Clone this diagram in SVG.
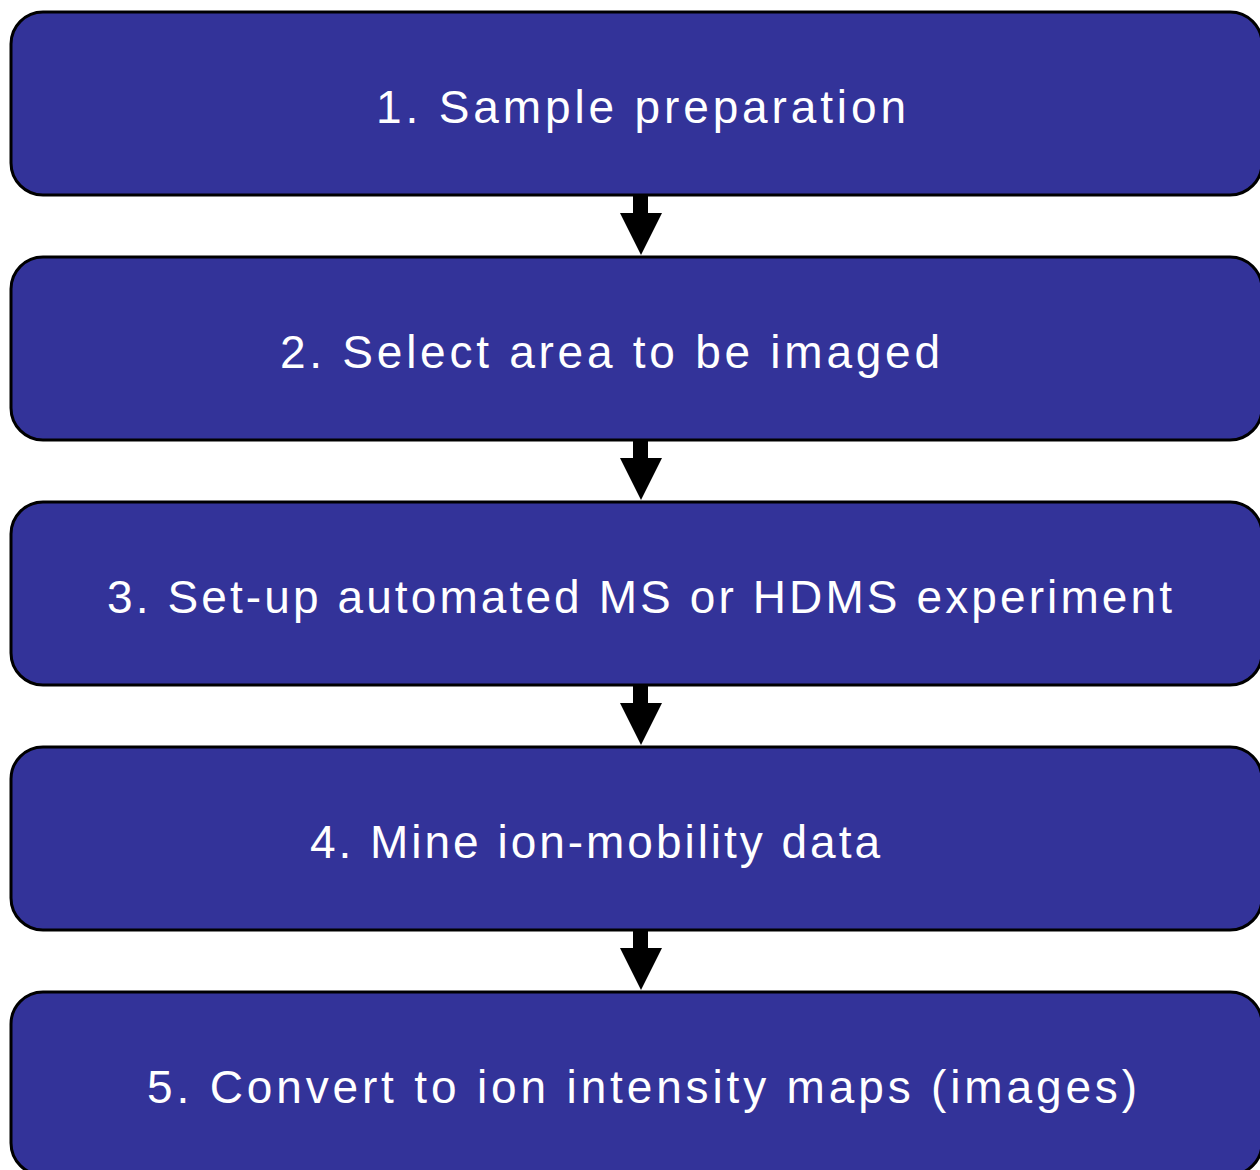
<svg xmlns="http://www.w3.org/2000/svg" width="1260" height="1170" viewBox="0 0 1260 1170">
<style>
.box{fill:#333399;stroke:#000;stroke-width:3}
.lbl{font-family:"Liberation Sans",Arial,sans-serif;font-size:46px;fill:#fff;lengthAdjust:spacing}
.arr{fill:#000}
</style>
<rect width="1260" height="1170" fill="#fff"/>
<g id="node1"><rect class="box" x="11" y="12" width="1251" height="183" rx="32"/><text class="lbl" x="376" y="123" textLength="530" lengthAdjust="spacing">1. Sample preparation</text></g>
<g id="node2"><rect class="box" x="11" y="257" width="1251" height="183" rx="32"/><text class="lbl" x="280" y="368" textLength="660" lengthAdjust="spacing">2. Select area to be imaged</text></g>
<g id="node3"><rect class="box" x="11" y="502" width="1251" height="183" rx="32"/><text class="lbl" x="107" y="613" textLength="1065" lengthAdjust="spacing">3. Set-up automated MS or HDMS experiment</text></g>
<g id="node4"><rect class="box" x="11" y="747" width="1251" height="183" rx="32"/><text class="lbl" x="310" y="858" textLength="570" lengthAdjust="spacing">4. Mine ion-mobility data</text></g>
<g id="node5"><rect class="box" x="11" y="992" width="1251" height="183" rx="32"/><text class="lbl" x="147" y="1103" textLength="990" lengthAdjust="spacing">5. Convert to ion intensity maps (images)</text></g>
<g id="connectors">
<polygon class="arr" points="633,196 648,196 648,213 662,213 641,255 620,213 633,213"/>
<polygon class="arr" points="633,441 648,441 648,458 662,458 641,500 620,458 633,458"/>
<polygon class="arr" points="633,686 648,686 648,703 662,703 641,745 620,703 633,703"/>
<polygon class="arr" points="633,931 648,931 648,948 662,948 641,990 620,948 633,948"/>
</g>
</svg>
